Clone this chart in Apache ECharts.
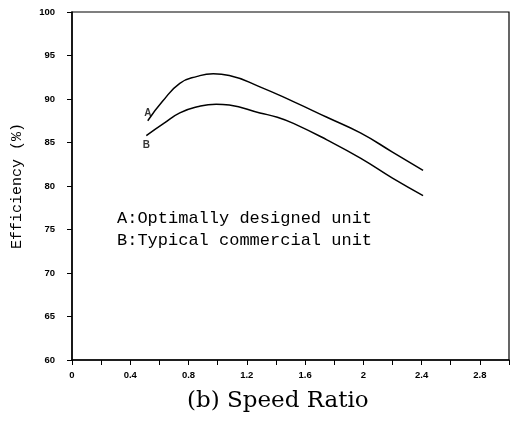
<!DOCTYPE html>
<html>
<head>
<meta charset="utf-8">
<script src="https://cdn.jsdelivr.net/npm/echarts@6/dist/echarts.min.js"></script>
<style>
  html, body { margin: 0; padding: 0; background: #fff; }
  #main { width: 520px; height: 424px; }
</style>
</head>
<body>
<div id="main"></div>
<script>
// speed ratio / efficiency
var ratioA = [0.52, 0.62, 0.74, 0.86, 0.97, 1.08, 1.29, 1.52, 1.75, 1.98, 2.2, 2.41];
var effA = [87.5, 89.7, 91.8, 92.6, 92.9, 92.7, 91.4, 89.7, 87.9, 86.1, 83.9, 81.8];
var ratioB = [0.51, 0.63, 0.74, 0.86, 0.99, 1.08, 1.29, 1.41, 1.52, 1.75, 1.98, 2.2, 2.41];
var effB = [85.8, 87.2, 88.4, 89.1, 89.4, 89.3, 88.4, 87.9, 87.2, 85.3, 83.2, 80.9, 78.9];
var curveTags = ['A', 'B'];

function pairs(xs, ys) {
  return xs.map(function (x, i) { return [x, ys[i]]; });
}

var tagStyle = { fontFamily: 'Liberation Sans', fontWeight: 'bold', fontSize: 10, color: '#000' };

var chart = echarts.init(document.getElementById('main'));
chart.setOption({
  animation: false,
  grid: {
    left: 72, right: 11, top: 12, bottom: 64, outerBoundsMode: 'none',
    show: true, borderColor: '#000', borderWidth: 1.2
  },
  xAxis: {
    type: 'value', min: 0, max: 3, interval: 0.2,
    axisLine: { lineStyle: { color: '#000', width: 1.5 } },
    axisTick: { length: 5, lineStyle: { color: '#000' } },
    splitLine: { show: false },
    axisLabel: {
      margin: 10, color: '#000', fontFamily: 'Liberation Sans', fontWeight: 'bold', fontSize: 9.5,
      formatter: function (v) {
        var k = Math.round(v * 10);
        return k % 4 === 0 ? String(k / 10) : '';
      }
    }
  },
  yAxis: {
    type: 'value', min: 60, max: 100, interval: 5,
    name: 'Efficiency (%)', nameLocation: 'middle', nameGap: 47,
    nameTextStyle: { fontFamily: 'Liberation Mono', fontSize: 15, color: '#000' },
    axisLine: { show: true, lineStyle: { color: '#000', width: 1.5 } },
    axisTick: { show: true, length: 5, lineStyle: { color: '#000' } },
    splitLine: { show: false },
    axisLabel: { margin: 17, color: '#000', fontFamily: 'Liberation Sans', fontWeight: 'bold', fontSize: 9.5 }
  },
  series: [
    {
      type: 'line', smooth: true, symbol: 'none',
      lineStyle: { color: '#000', width: 1.5 },
      data: pairs(ratioA, effA)
    },
    {
      type: 'line', smooth: true, symbol: 'none',
      lineStyle: { color: '#000', width: 1.5 },
      data: pairs(ratioB, effB)
    },
    {
      type: 'scatter', symbolSize: 1, itemStyle: { color: 'rgba(0,0,0,0)' },
      data: [
        { value: [ratioA[0], effA[0]], label: Object.assign({ show: true, formatter: curveTags[0], position: 'top', distance: 2 }, tagStyle) },
        { value: [ratioB[0], effB[0]], label: Object.assign({ show: true, formatter: curveTags[1], position: 'bottom', distance: 4 }, tagStyle) }
      ]
    }
  ],
  graphic: [
    { type: 'text', left: 117, top: 210, style: { text: 'A:Optimally designed unit', font: '17px "Liberation Mono"', fill: '#000' } },
    { type: 'text', left: 117, top: 232, style: { text: 'B:Typical commercial unit', font: '17px "Liberation Mono"', fill: '#000' } },
    { type: 'text', left: 187, top: 390, style: { text: '(b) Speed Ratio', font: '23px "DejaVu Serif"', fill: '#000' } }
  ]
});
</script>
</body>
</html>
